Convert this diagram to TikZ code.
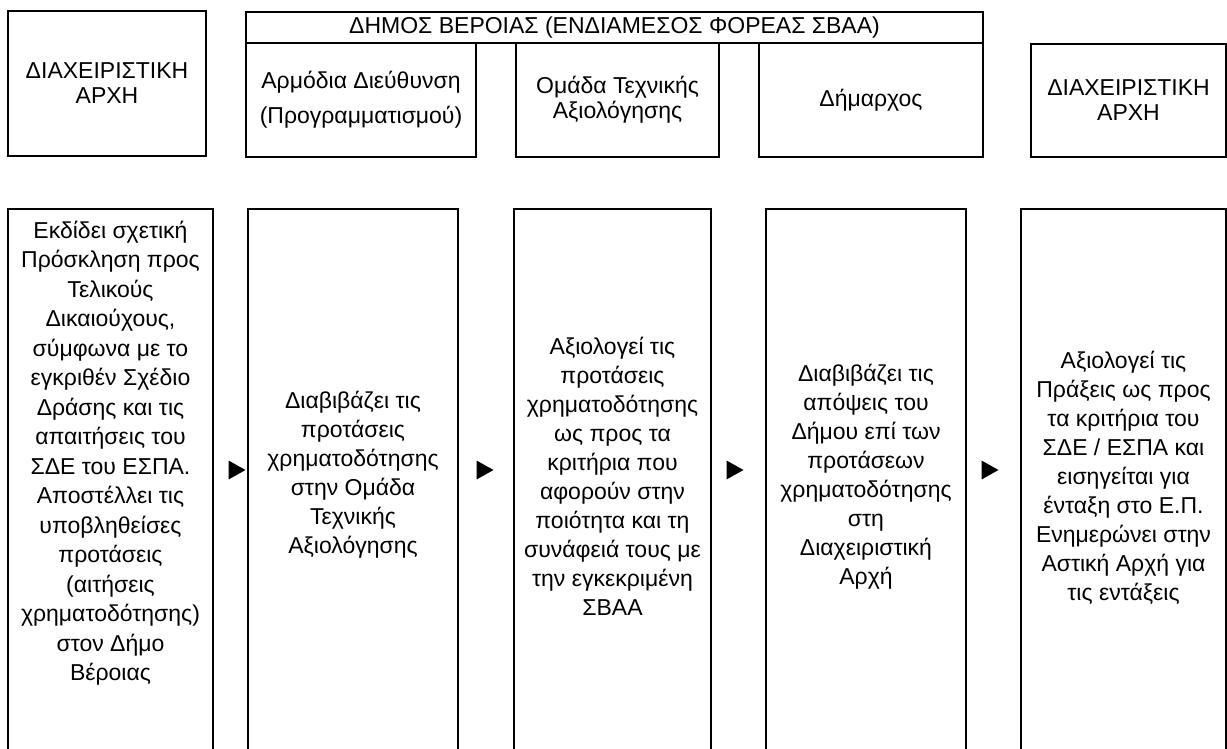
\documentclass[tikz,border=0pt]{standalone}
\usepackage{fontspec}
\setmainfont{Liberation Sans}
\begin{document}
\begin{tikzpicture}[x=1pt,y=-1pt,
  box/.style={draw=black,line width=2pt,inner sep=0pt,outer sep=0pt,align=center,
    font={\fontsize{23pt}{25pt}\selectfont}},
  frame/.style={draw=none,inner sep=0pt,outer sep=0pt},
  txt/.style={align=center,inner sep=0pt,font={\fontsize{23pt}{29pt}\selectfont}},
  side/.style={draw=black,line width=2pt},
  tri/.style={fill=black}]
\useasboundingbox (0,0) rectangle (1227,749);
% top row
\node[box,minimum width=198pt,minimum height=145pt] (da1) at (107,83.5) {ΔΙΑΧΕΙΡΙΣΤΙΚΗ\\ΑΡΧΗ};
\node[box,minimum width=737pt,minimum height=31pt] (hdr) at (614.5,27.5) {ΔΗΜΟΣ ΒΕΡΟΙΑΣ (ΕΝΔΙΑΜΕΣΟΣ ΦΟΡΕΑΣ ΣΒΑΑ)};
\node[box,minimum width=230pt,minimum height=114pt,font={\fontsize{23pt}{35pt}\selectfont}] (s1) at (361,100) {Αρμόδια Διεύθυνση\\(Προγραμματισμού)};
\node[box,minimum width=203pt,minimum height=114pt] (s2) at (617.5,100) {Ομάδα Τεχνικής\\Αξιολόγησης};
\node[box,minimum width=224pt,minimum height=114pt] (s3) at (871,100) {Δήμαρχος};
\node[box,minimum width=195pt,minimum height=113pt] (da2) at (1128.5,100.5) {ΔΙΑΧΕΙΡΙΣΤΙΚΗ\\ΑΡΧΗ};
% bottom row frames (open at the bottom)
\node[frame,minimum width=205pt,minimum height=551pt] (b1) at (110.5,484.5) {};
\node[frame,minimum width=210pt,minimum height=551pt] (b2) at (353,484.5) {};
\node[frame,minimum width=197pt,minimum height=551pt] (b3) at (612.5,484.5) {};
\node[frame,minimum width=200pt,minimum height=551pt] (b4) at (866,484.5) {};
\node[frame,minimum width=205pt,minimum height=551pt] (b5) at (1123.5,484.5) {};
\foreach \b in {b1,b2,b3,b4,b5}
  \draw[side] (\b.south west) |- (\b.north east) -- (\b.south east);
% bottom texts
\node[txt,font={\fontsize{23pt}{29.5pt}\selectfont}] (t1) at (110.5,453) {Εκδίδει σχετική\\Πρόσκληση προς\\Τελικούς\\Δικαιούχους,\\σύμφωνα με το\\εγκριθέν Σχέδιο\\Δράσης και τις\\απαιτήσεις του\\ΣΔΕ του ΕΣΠΑ.\\Αποστέλλει τις\\υποβληθείσες\\προτάσεις\\(αιτήσεις\\χρηματοδότησης)\\στον Δήμο\\Βέροιας};
\node[txt] (t2) at (353,475) {Διαβιβάζει τις\\προτάσεις\\χρηματοδότησης\\στην Ομάδα\\Τεχνικής\\Αξιολόγησης};
\node[txt] (t3) at (612.5,476) {Αξιολογεί τις\\προτάσεις\\χρηματοδότησης\\ως προς τα\\κριτήρια που\\αφορούν στην\\ποιότητα και τη\\συνάφειά τους με\\την εγκεκριμένη\\ΣΒΑΑ};
\node[txt] (t4) at (866,477) {Διαβιβάζει τις\\απόψεις του\\Δήμου επί των\\προτάσεων\\χρηματοδότησης\\στη\\Διαχειριστική\\Αρχή};
\node[txt] (t5) at (1123.5,478) {Αξιολογεί τις\\Πράξεις ως προς\\τα κριτήρια του\\ΣΔΕ / ΕΣΠΑ και\\εισηγείται για\\ένταξη στο Ε.Π.\\Ενημερώνει στην\\Αστική Αρχή για\\τις εντάξεις};
% flow markers
\coordinate (a1) at (237,470);
\coordinate (a2) at (485,470);
\coordinate (a3) at (735,470);
\coordinate (a4) at (990,470);
\foreach \a in {a1,a2,a3,a4}
  \fill[tri] ([shift={(-8.5,-9.5)}]\a) -- ([shift={(8.5,0)}]\a) -- ([shift={(-8.5,9.5)}]\a) -- cycle;
\end{tikzpicture}
\end{document}
